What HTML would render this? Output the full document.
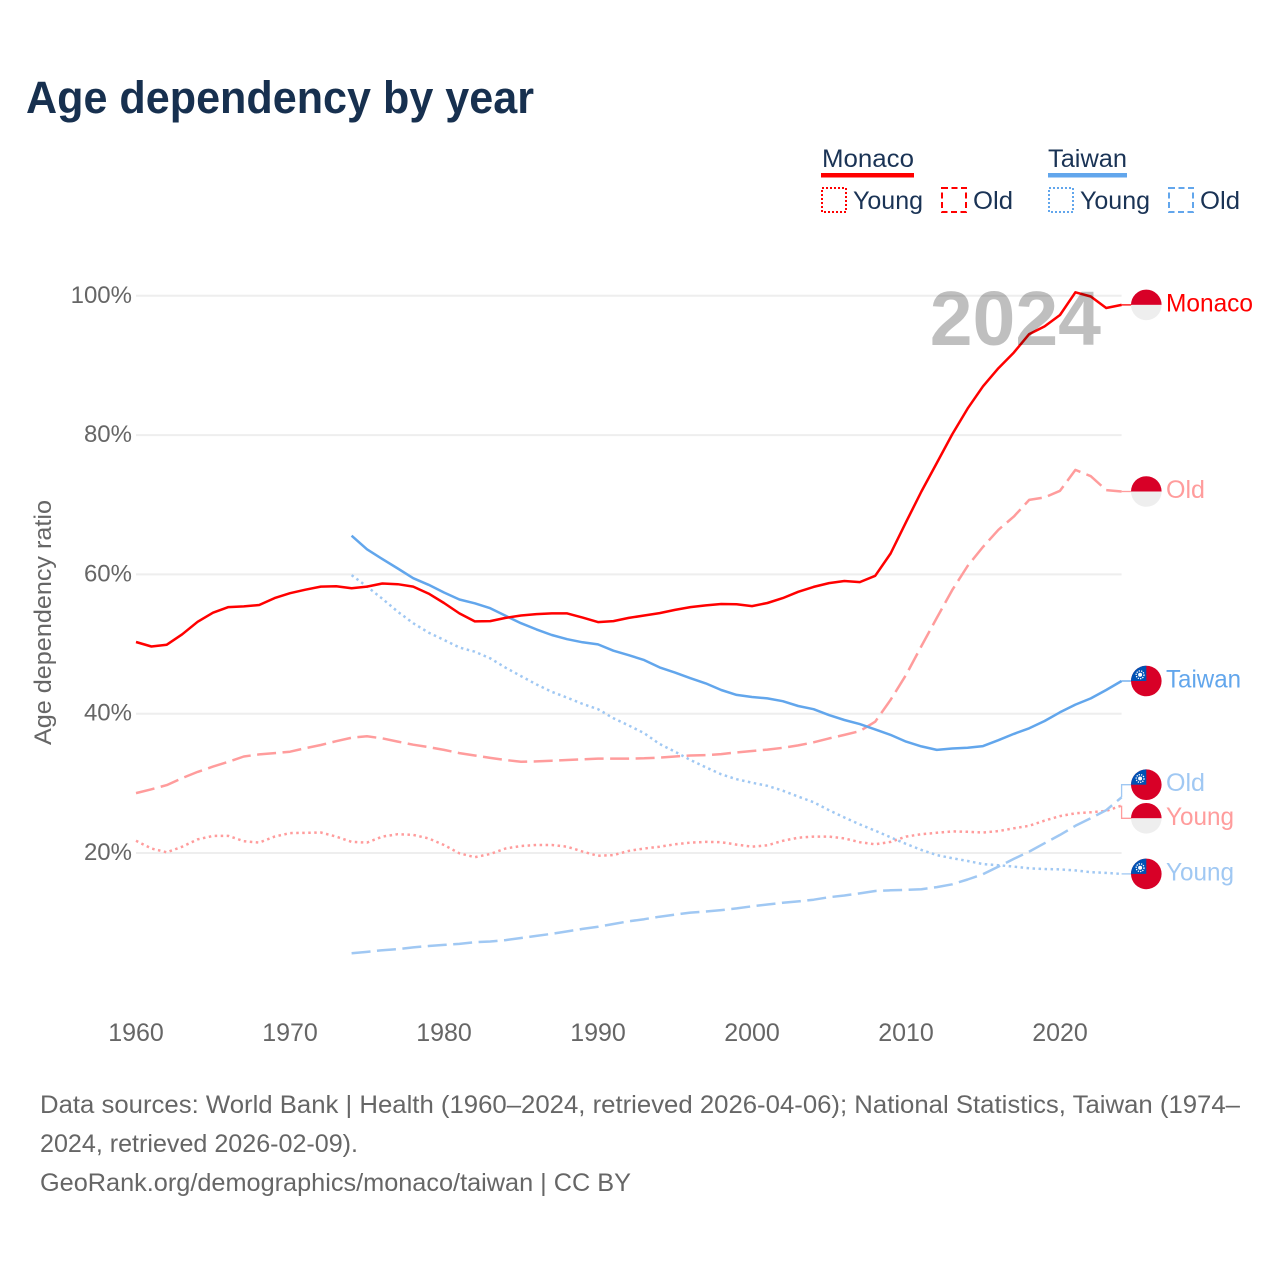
<!DOCTYPE html>
<html lang="en">
<head>
<meta charset="utf-8">
<title>Age dependency by year</title>
<style>
html,body{margin:0;padding:0;background:#fff;width:1280px;height:1280px;overflow:hidden}
svg{display:block}
text{font-family:"Liberation Sans",sans-serif}
.tick{font-size:24px;fill:#666}
.legend{font-size:25px;fill:#1a3355}
.foot{font-size:25px;fill:#666}
.end{font-size:25px}
</style>
</head>
<body>
<svg id="chart" width="1280" height="1280" viewBox="0 0 1280 1280" xmlns="http://www.w3.org/2000/svg">
  <defs>
    <clipPath id="flag-clip"><circle cx="0" cy="0" r="15.3"/></clipPath>
    <g id="flag-mc">
      <g clip-path="url(#flag-clip)">
        <rect x="-16" y="-16" width="32" height="16" fill="#d80027"/>
        <rect x="-16" y="0" width="32" height="16" fill="#eeeeee"/>
      </g>
    </g>
    <g id="flag-tw">
      <g clip-path="url(#flag-clip)">
        <rect x="-16" y="-16" width="32" height="32" fill="#d80027"/>
        <rect x="-16" y="-16" width="16" height="16" fill="#0052b4"/>
        <circle cx="-6.2" cy="-6.2" r="3.9" fill="none" stroke="#fff" stroke-width="1.3" stroke-dasharray="1.3 1.1"/>
        <circle cx="-6.2" cy="-6.2" r="2" fill="#fff"/>
      </g>
    </g>
  </defs>

  <text x="26" y="113" font-size="45" font-weight="700" fill="#17304f" textLength="508" lengthAdjust="spacingAndGlyphs">Age dependency by year</text>

  <g>
    <text class="legend" x="822" y="167" textLength="92" lengthAdjust="spacingAndGlyphs">Monaco</text>
    <rect x="821" y="173" width="93" height="4.5" fill="#ff0000"/>
    <rect x="822" y="188" width="24" height="24" fill="none" stroke="#ff0000" stroke-width="2" stroke-dasharray="2 2"/>
    <text class="legend" x="853" y="209" textLength="70" lengthAdjust="spacingAndGlyphs">Young</text>
    <rect x="942" y="188" width="24" height="24" fill="none" stroke="#ff0000" stroke-width="2" stroke-dasharray="6 3.5"/>
    <text class="legend" x="973" y="209" textLength="40" lengthAdjust="spacingAndGlyphs">Old</text>

    <text class="legend" x="1048" y="167" textLength="79" lengthAdjust="spacingAndGlyphs">Taiwan</text>
    <rect x="1048" y="173" width="79" height="4.5" fill="#62a6ec"/>
    <rect x="1049" y="188" width="24" height="24" fill="none" stroke="#62a6ec" stroke-width="2" stroke-dasharray="2 2"/>
    <text class="legend" x="1080" y="209" textLength="70" lengthAdjust="spacingAndGlyphs">Young</text>
    <rect x="1169" y="188" width="24" height="24" fill="none" stroke="#62a6ec" stroke-width="2" stroke-dasharray="6 3.5"/>
    <text class="legend" x="1200" y="209" textLength="40" lengthAdjust="spacingAndGlyphs">Old</text>
  </g>

  <text transform="translate(51,745) rotate(-90)" font-size="24" fill="#666" textLength="245" lengthAdjust="spacingAndGlyphs">Age dependency ratio</text>

  <g id="grid"></g>
  <g id="y-ticks"></g>
  <g id="x-ticks"></g>
  <g id="leaders"></g>
  <g id="series"></g>

  <text x="1101" y="345" text-anchor="end" font-size="77" font-weight="700" fill="#000" fill-opacity="0.25">2024</text>

  <g id="end-mc-total">
    <use href="#flag-mc" x="1146.3"/>
    <text class="end" x="1166" y="6.5" fill="#ff0000" textLength="87" lengthAdjust="spacingAndGlyphs">Monaco</text>
  </g>
  <g id="end-mc-old">
    <use href="#flag-mc" x="1146.3"/>
    <text class="end" x="1166" y="6.5" fill="#ff9c9c" textLength="39" lengthAdjust="spacingAndGlyphs">Old</text>
  </g>
  <g id="end-mc-young">
    <use href="#flag-mc" x="1146.3"/>
    <text class="end" x="1166" y="6.5" fill="#ff9c9c" textLength="68" lengthAdjust="spacingAndGlyphs">Young</text>
  </g>
  <g id="end-tw-total">
    <use href="#flag-tw" x="1146.3"/>
    <text class="end" x="1166" y="6.5" fill="#62a6ec" textLength="75" lengthAdjust="spacingAndGlyphs">Taiwan</text>
  </g>
  <g id="end-tw-old">
    <use href="#flag-tw" x="1146.3"/>
    <text class="end" x="1166" y="6.5" fill="#a0c8f3" textLength="39" lengthAdjust="spacingAndGlyphs">Old</text>
  </g>
  <g id="end-tw-young">
    <use href="#flag-tw" x="1146.3"/>
    <text class="end" x="1166" y="6.5" fill="#a0c8f3" textLength="68" lengthAdjust="spacingAndGlyphs">Young</text>
  </g>

  <g>
    <text class="foot" x="40" y="1113" textLength="1200" lengthAdjust="spacingAndGlyphs">Data sources: World Bank | Health (1960–2024, retrieved 2026-04-06); National Statistics, Taiwan (1974–</text>
    <text class="foot" x="40" y="1152" textLength="318" lengthAdjust="spacingAndGlyphs">2024, retrieved 2026-02-09).</text>
    <text class="foot" x="40" y="1191" textLength="591" lengthAdjust="spacingAndGlyphs">GeoRank.org/demographics/monaco/taiwan | CC BY</text>
  </g>
</svg>

<script>
var xTickYears = [1960, 1970, 1980, 1990, 2000, 2010, 2020];
var yTickValues = [20, 40, 60, 80, 100];
var monacoStartYear = 1960;
var taiwanStartYear = 1974;

var monacoTotal = [50.3,49.65,49.9,51.4,53.2,54.5,55.3,55.4,55.6,56.6,57.3,57.8,58.25,58.3,58.0,58.25,58.7,58.6,58.25,57.25,55.9,54.4,53.25,53.3,53.75,54.1,54.3,54.4,54.4,53.8,53.15,53.3,53.75,54.1,54.45,54.9,55.3,55.55,55.75,55.7,55.45,55.9,56.6,57.5,58.2,58.75,59.05,58.9,59.8,63.0,67.5,71.9,76.0,80.1,83.8,87.0,89.6,91.85,94.5,95.6,97.25,100.5,99.9,98.25,98.7];
var monacoOld = [28.6,29.15,29.75,30.75,31.65,32.4,33.1,33.85,34.15,34.35,34.55,35.05,35.5,36.05,36.55,36.75,36.45,36.0,35.55,35.2,34.8,34.35,34.0,33.65,33.35,33.1,33.15,33.25,33.35,33.45,33.55,33.55,33.55,33.6,33.7,33.85,34.0,34.05,34.2,34.45,34.65,34.85,35.1,35.45,35.9,36.45,36.95,37.5,38.85,42.0,45.55,49.7,53.75,57.75,61.2,63.95,66.4,68.3,70.7,71.05,72.0,75.0,74.1,72.1,71.9];
var monacoYoung = [21.75,20.65,20.1,20.9,21.95,22.45,22.45,21.7,21.5,22.35,22.85,22.9,22.95,22.35,21.6,21.5,22.35,22.7,22.6,22.1,21.15,19.95,19.4,19.85,20.65,21.0,21.15,21.15,20.9,20.2,19.6,19.7,20.3,20.65,20.9,21.25,21.5,21.6,21.55,21.2,20.9,21.1,21.75,22.2,22.35,22.35,22.1,21.55,21.25,21.6,22.35,22.7,22.9,23.1,23.05,22.95,23.15,23.55,23.9,24.65,25.3,25.7,25.85,26.05,26.8];
var taiwanTotal = [65.55,63.6,62.2,60.85,59.45,58.5,57.4,56.4,55.85,55.15,54.05,53.0,52.1,51.3,50.7,50.25,49.95,49.05,48.4,47.7,46.65,45.9,45.1,44.35,43.4,42.7,42.4,42.2,41.8,41.1,40.65,39.8,39.1,38.5,37.75,36.95,36.0,35.3,34.8,35.0,35.1,35.35,36.2,37.1,37.9,38.95,40.2,41.3,42.2,43.4,44.7];
var taiwanYoung = [59.9,58.25,56.5,54.65,53.0,51.65,50.6,49.5,48.9,47.95,46.6,45.4,44.2,43.15,42.3,41.4,40.65,39.35,38.3,37.2,35.65,34.55,33.35,32.3,31.3,30.6,30.1,29.65,28.95,28.1,27.3,26.15,25.1,24.1,23.2,22.25,21.3,20.45,19.7,19.25,18.85,18.4,18.25,18.05,17.8,17.7,17.65,17.5,17.25,17.15,17.0];
var taiwanOld = [5.6,5.8,6.05,6.2,6.45,6.65,6.8,6.95,7.2,7.3,7.5,7.8,8.1,8.4,8.75,9.1,9.4,9.8,10.2,10.5,10.85,11.15,11.45,11.6,11.8,12.05,12.35,12.6,12.85,13.05,13.3,13.65,13.9,14.2,14.55,14.65,14.7,14.8,15.1,15.5,16.2,16.95,18.05,19.15,20.2,21.4,22.6,23.9,25.0,26.15,28.0];

var NS = 'http://www.w3.org/2000/svg';
function xScale(year) { return 136 + (year - 1960) * 15.4; }
function yScale(value) { return 853 - (value - 20) * 6.965; }
function make(tag, attrs, parent) {
  var el = document.createElementNS(NS, tag);
  for (var k in attrs) el.setAttribute(k, attrs[k]);
  parent.appendChild(el);
  return el;
}

var gridLayer = document.getElementById('grid');
var yTickLayer = document.getElementById('y-ticks');
yTickValues.forEach(function (v) {
  var line = make('line', {x1: 136, x2: xScale(2024), y1: yScale(v), y2: yScale(v), stroke: '#eeeeee', 'stroke-width': 2}, gridLayer);
  
  
  var label = make('text', {x: 132, y: yScale(v) + 7, 'text-anchor': 'end', 'class': 'tick'}, yTickLayer);
  
  
  label.textContent = v + '%';
});

var xTickLayer = document.getElementById('x-ticks');
xTickYears.forEach(function (yr) {
  var label = make('text', {x: xScale(yr), y: 1041, 'text-anchor': 'middle', 'class': 'tick', style: 'font-size:25px'}, xTickLayer);
  
  
  label.textContent = yr;
});

var DASH = '19 6.5';
var DOT = '2.5 3.5';
var seriesLayer = document.getElementById('series');
function drawSeries(values, startYear, color, dash, name) {
  var pts = values.map(function (v, i) {
    return xScale(startYear + i).toFixed(1) + ',' + yScale(v).toFixed(1);
  }).join(' ');
  var line = make('polyline', {points: pts, fill: 'none', stroke: color, 'stroke-width': 2.5, 'stroke-linejoin': 'round'}, seriesLayer);
  if (dash) line.setAttribute('stroke-dasharray', dash);
  
  
}
drawSeries(monacoYoung, monacoStartYear, '#ff9c9c', DOT, 'line-monaco-young');
drawSeries(monacoOld, monacoStartYear, '#ff9c9c', DASH, 'line-monaco-old');
drawSeries(taiwanYoung, taiwanStartYear, '#a0c8f3', DOT, 'line-taiwan-young');
drawSeries(taiwanOld, taiwanStartYear, '#a0c8f3', DASH, 'line-taiwan-old');
drawSeries(taiwanTotal, taiwanStartYear, '#62a6ec', null, 'line-taiwan');
drawSeries(monacoTotal, monacoStartYear, '#ff0000', null, 'line-monaco');

var endItems = [
  {id: 'end-mc-total', values: monacoTotal, color: '#ff0000'},
  {id: 'end-mc-old', values: monacoOld, color: '#ff9c9c'},
  {id: 'end-mc-young', values: monacoYoung, color: '#ff9c9c'},
  {id: 'end-tw-total', values: taiwanTotal, color: '#62a6ec'},
  {id: 'end-tw-old', values: taiwanOld, color: '#a0c8f3'},
  {id: 'end-tw-young', values: taiwanYoung, color: '#a0c8f3'}
];
endItems.forEach(function (it) {
  it.y0 = yScale(it.values[it.values.length - 1]);
  it.y = it.y0;
});
endItems.sort(function (a, b) { return a.y0 - b.y0; });
var minGap = 33.6;
for (var pass = 0; pass < 20; pass++) {
  for (var i = 0; i < endItems.length - 1; i++) {
    var gap = endItems[i + 1].y - endItems[i].y;
    if (gap < minGap) {
      var shift = (minGap - gap) / 2;
      endItems[i].y -= shift;
      endItems[i + 1].y += shift;
    }
  }
}
var leaderLayer = document.getElementById('leaders');
var endX = xScale(2024);
endItems.forEach(function (it) {
  document.getElementById(it.id).setAttribute('transform', 'translate(0,' + it.y.toFixed(1) + ')');
  var pts = endX + ',' + it.y0.toFixed(1) + ' ' + endX + ',' + it.y.toFixed(1) + ' 1132,' + it.y.toFixed(1);
  var leader = make('polyline', {points: pts, fill: 'none', stroke: it.color, 'stroke-width': 1.3}, leaderLayer);
  
  
});
</script>
</body>
</html>
